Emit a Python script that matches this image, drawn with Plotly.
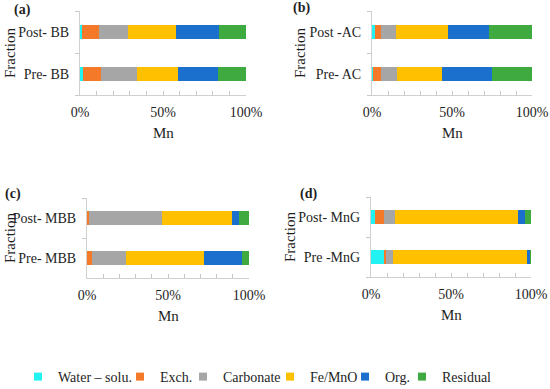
import plotly.graph_objects as go

W, H = 550, 389

components = ["Water – solu.", "Exch.", "Carbonate", "Fe/MnO", "Org.", "Residual"]
colors = ["#22F2F2", "#F47A2A", "#A6A6A6", "#FFC000", "#1A70CC", "#3FAA40"]

# category labels per panel (bottom to top)
cats_a = ["Pre- BB", "Post- BB"]
cats_b = ["Pre- AC", "Post -AC"]
cats_c = ["Pre- MBB", "Post- MBB"]
cats_d = ["Pre -MnG", "Post- MnG"]

# percentage values per fraction, order of `components`
BB_pre = [2.0, 10.5, 21.8, 24.7, 24.0, 17.0]
BB_post = [1.0, 10.4, 17.4, 28.8, 26.4, 16.0]
AC_pre = [0.6, 4.8, 10.2, 28.1, 31.1, 25.2]
AC_post = [1.9, 3.5, 9.8, 32.2, 26.0, 26.6]
MBB_pre = [0.2, 2.7, 21.2, 47.9, 23.9, 4.1]
MBB_post = [0.2, 1.2, 44.8, 43.1, 4.3, 6.4]
MnG_pre = [8.5, 0.7, 4.8, 83.3, 2.3, 0.4]
MnG_post = [2.3, 5.8, 7.1, 76.7, 4.1, 4.0]

x_tickvals = [0, 10, 20, 30, 40, 50, 60, 70, 80, 90, 100]
x_ticktext = ["0%", "", "", "", "", "50%", "", "", "", "", "100%"]

# (tag, cats, pre, post, plot x px, plot y px, tag pos px, fraction-title x px)
panels = [
    ("(a)", cats_a, BB_pre, BB_post, (80, 246), (11, 95), (12, 10), 10),
    ("(b)", cats_b, AC_pre, AC_post, (372, 532), (11, 95), (291, 8), 300),
    ("(c)", cats_c, MBB_pre, MBB_post, (87, 249), (198, 278), (3, 194), 10),
    ("(d)", cats_d, MnG_pre, MnG_post, (371, 531), (197, 277), (298, 194), 290),
]

# legend text start positions (px) and vertical centre
legend_text_x = [58, 160, 223, 310, 385, 442]
legend_y = 377

FONT = "Liberation Serif"
TXT = "#1E1E1E"
fig = go.Figure()
annotations = []

for i, (tag, cats, pre, post, (x0, x1), (y0, y1), (tx, ty), fx) in enumerate(panels):
    n = "" if i == 0 else str(i + 1)
    for j, comp in enumerate(components):
        fig.add_trace(go.Bar(
            y=cats, x=[pre[j], post[j]], orientation="h",
            name=comp, marker=dict(color=colors[j], line=dict(width=0)),
            xaxis="x" + n, yaxis="y" + n, showlegend=False,
        ))
    fig.update_layout(**{
        "xaxis" + n: dict(
            domain=[x0 / W, x1 / W], anchor="y" + n, range=[0, 100],
            tickvals=x_tickvals, ticktext=x_ticktext,
            ticks="inside", ticklen=4, tickcolor="#C8C8C8",
            showline=True, linecolor="#D0D0D0", linewidth=1,
            showgrid=False, zeroline=False, ticklabelstandoff=4,
            tickfont=dict(family=FONT, size=14, color=TXT),
            automargin=False, fixedrange=True,
        ),
        "yaxis" + n: dict(
            domain=[1 - y1 / H, 1 - y0 / H], anchor="x" + n,
            type="category", categoryorder="array", categoryarray=cats,
            tickson="boundaries", ticks="outside", ticklen=4, tickcolor="#C8C8C8",
            showline=True, linecolor="#D0D0D0", linewidth=1,
            showgrid=False, ticklabelstandoff=7,
            tickfont=dict(family=FONT, size=14, color=TXT),
            automargin=False, fixedrange=True,
        ),
    })
    annotations.append(dict(
        text="<b>" + tag + "</b>", xref="paper", yref="paper",
        x=tx / W, y=1 - ty / H, xanchor="left", yanchor="middle", showarrow=False,
        font=dict(family=FONT, size=14, color=TXT),
    ))
    annotations.append(dict(
        text="Mn", xref="paper", yref="paper",
        x=(x0 + x1) / 2 / W, y=1 - (y1 + 38) / H,
        xanchor="center", yanchor="middle", showarrow=False,
        font=dict(family=FONT, size=15, color=TXT),
    ))
    annotations.append(dict(
        text="Fraction", xref="paper", yref="paper", textangle=-90,
        x=fx / W, y=1 - (y0 + y1) / 2 / H,
        xanchor="center", yanchor="middle", showarrow=False,
        font=dict(family=FONT, size=15, color=TXT),
    ))

# legend entries: one single-item legend per component
legend_layout = {}
for j, comp in enumerate(components):
    key = "legend" if j == 0 else "legend" + str(j + 1)
    fig.add_trace(go.Scatter(
        x=[None], y=[None], mode="markers", name=comp,
        marker=dict(symbol="square", size=8, color=colors[j]),
        legend=key, showlegend=True, xaxis="x", yaxis="y",
    ))
    legend_layout[key] = dict(
        x=(legend_text_x[j] - 40) / W, xanchor="left",
        y=1 - legend_y / H, yanchor="middle",
        orientation="h", bgcolor="rgba(0,0,0,0)", borderwidth=0,
        font=dict(family=FONT, size=14, color=TXT), itemwidth=30,
    )

fig.update_layout(
    width=W, height=H, barmode="stack", bargap=0.65,
    margin=dict(l=0, r=0, t=0, b=0, autoexpand=False),
    paper_bgcolor="white", plot_bgcolor="white",
    annotations=annotations,
    **legend_layout,
)

fig.write_html("out.html", config={"displayModeBar": False},
               post_script="document.body.style.margin='0px';")
